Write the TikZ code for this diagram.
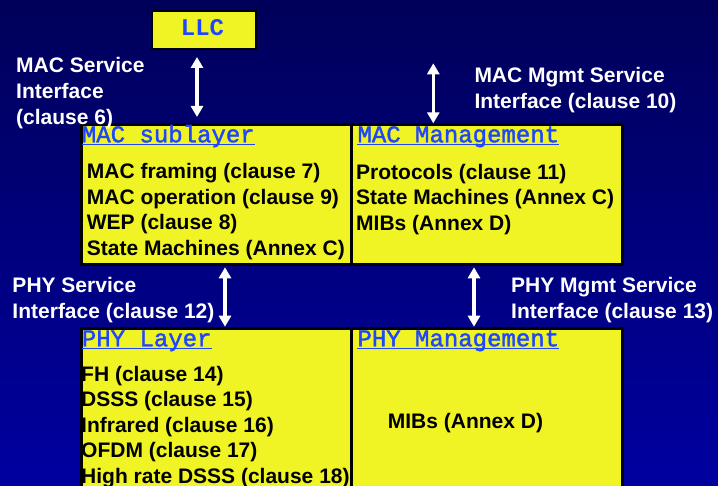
\documentclass[tikz,border=0pt]{standalone}
\usepackage{fontspec}
\setmainfont{Liberation Sans}
\newfontfamily\monofont{Liberation Mono}
\newfontfamily\monohdr[FakeBold=1.6]{Liberation Mono}
\usetikzlibrary{arrows.meta}
\definecolor{bgtop}{RGB}{0,0,90}
\definecolor{bgbot}{RGB}{0,0,160}
\definecolor{boxyellow}{RGB}{240,244,36}
\definecolor{linkblue}{RGB}{30,70,255}
\begin{document}
\begin{tikzpicture}[x=1pt,y=-1pt,
  box/.style={draw=black, line width=3pt, fill=boxyellow, inner sep=0, anchor=north west},
  lab/.style={font=\fontsize{21}{26}\selectfont\bfseries, text=white, align=left, inner sep=0, anchor=north west},
  item/.style={font=\fontsize{21}{25.4}\selectfont\bfseries, text=black, align=left, inner sep=0, anchor=north west},
  hdr/.style={font=\monohdr\fontsize{24}{24}\selectfont, text=linkblue, inner sep=0, anchor=base west},
  uline/.style={draw=linkblue, line width=1.5pt},
  arr/.style={draw=white, line width=3.2pt, {Triangle[width=12pt,length=11pt]}-{Triangle[width=12pt,length=11pt]}}
]
\useasboundingbox (0,0) rectangle (718,486);
\clip (0,0) rectangle (718,486);
\shade[top color=bgtop, bottom color=bgbot] (0,0) rectangle (718,486);

% boxes
\node[box, line width=2pt, minimum width=103.7pt, minimum height=37.7pt] (llc) at (151,10.3) {};
\node[box, minimum width=270pt, minimum height=140.2pt] (mac) at (79.5,123.3) {};
\node[box, minimum width=271.5pt, minimum height=140.2pt] (macm) at (349.5,123.3) {};
\node[box, minimum width=270pt, minimum height=200pt] (phy) at (79.5,326.7) {};
\node[box, minimum width=271.5pt, minimum height=200pt] (phym) at (349.5,326.7) {};

% headers
\node[font=\monofont\bfseries\fontsize{24}{24}\selectfont, text=linkblue, inner sep=0, anchor=base] (llct) at (202.5,36) {LLC};
\node[hdr] (h1) at (81.7,142.3) {MAC sublayer};
\node[hdr] (h2) at (357.3,142.3) {MAC Management};
\node[hdr] (h3) at (81.7,346.3) {PHY Layer};
\node[hdr] (h4) at (357.3,346.3) {PHY Management};
\foreach \h in {h1,h2,h3,h4}{
  \draw[uline] ([yshift=-2pt]\h.base west) -- ([yshift=-2pt]\h.base east);
}

% items
\node[item] (i1) at (86.7,163.5) {MAC framing (clause 7)\\MAC operation (clause 9)\\WEP (clause 8)\\State Machines (Annex C)};
\node[item] (i2) at (356,163.8) {Protocols (clause 11)\\State Machines (Annex C)\\MIBs (Annex D)};
\node[item] (i3) at (81,366) {FH (clause 14)\\DSSS (clause 15)\\Infrared (clause 16)\\OFDM (clause 17)\\High rate DSSS (clause 18)};
\node[item] (i4) at (387.7,413.3) {MIBs (Annex D)};

% interface labels
\node[lab] (l1) at (16,56.7) {MAC Service\\Interface\\(clause 6)};
\node[lab] (l2) at (474.3,66.7) {MAC Mgmt Service\\Interface (clause 10)};
\node[lab] (l3) at (12.3,277.3) {PHY Service\\Interface (clause 12)};
\node[lab] (l4) at (511,277.3) {PHY Mgmt Service\\Interface (clause 13)};

% arrows
\coordinate (a1t) at (197,57);
\coordinate (a1b) at (197,117);
\coordinate (a2t) at (433.3,63.3);
\coordinate (a3t) at (225,267.3);
\coordinate (a4t) at (474,267.3);
\draw[arr] (a1t) -- (a1b);
\draw[arr] (a2t) -- (a2t |- macm.north);
\draw[arr] (a3t) -- (a3t |- phy.north);
\draw[arr] (a4t) -- (a4t |- phym.north);
\end{tikzpicture}
\end{document}
